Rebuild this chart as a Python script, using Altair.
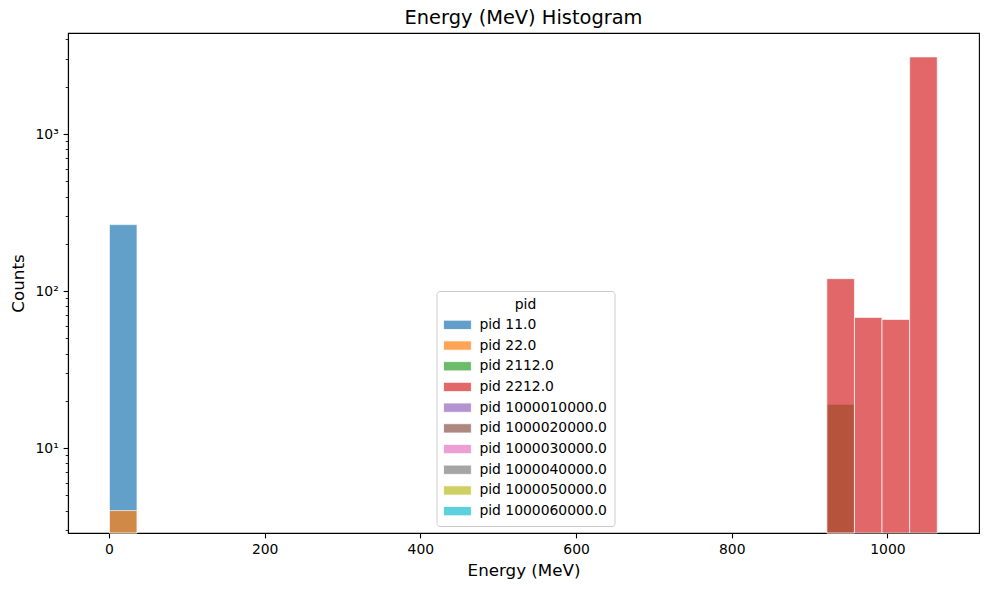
import altair as alt
import pandas as pd

# ---- data ----
pid_values = [11.0, 22.0, 2112.0, 2212.0, 1000010000.0, 1000020000.0,
              1000030000.0, 1000040000.0, 1000050000.0, 1000060000.0]
tab10 = ["#1f77b4", "#ff7f0e", "#2ca02c", "#d62728", "#9467bd",
         "#8c564b", "#e377c2", "#7f7f7f", "#bcbd22", "#17becf"]

bar_pid = [11.0, 22.0, 2112.0, 2212.0, 2212.0, 2212.0, 2212.0]
bar_start = [0.51, 0.51, 922.2, 922.2, 957.7, 993.1, 1028.6]
bar_end = [36.0, 36.0, 957.7, 957.7, 993.1, 1028.6, 1064.1]
bar_count = [265, 4, 19, 120, 68, 66, 3100]

x_ticks = [0, 200, 400, 600, 800, 1000]
y_major = [10, 100, 1000]
y_minor = [3, 4, 5, 6, 7, 8, 9, 20, 30, 40, 50, 60, 70, 80, 90,
           200, 300, 400, 500, 600, 700, 800, 900, 2000, 3000, 4000]

labels = ["pid " + str(p) for p in pid_values]
df = pd.DataFrame({
    "pid": ["pid " + str(p) for p in bar_pid],
    "start": bar_start,
    "end": bar_end,
    "count": bar_count,
    "idx": list(range(len(bar_pid))),
})

W, H = 911, 500
FONT = "DejaVu Sans"

major_test = "datum.value == 10 || datum.value == 100 || datum.value == 1000"

chart = alt.Chart(df).mark_bar(
    fillOpacity=0.7, strokeOpacity=0.7, stroke="white", strokeWidth=1
).encode(
    x=alt.X("start:Q",
            scale=alt.Scale(domain=[-52.7, 1117.7], nice=False, zero=False),
            axis=alt.Axis(values=x_ticks, format="d", title="Energy (MeV)", grid=False,
                          labelFontSize=13.9, labelFont=FONT, labelColor="black",
                          tickSize=4.9, tickWidth=1.1, tickColor="black",
                          labelPadding=4.9, domainColor="black", domainWidth=1.1,
                          titleFontSize=16.7, titleFont=FONT, titleFontWeight="normal",
                          titleColor="black", titleX=455.5, titleY=37,
                          titleBaseline="middle", titleAlign="center")),
    x2="end:Q",
    y=alt.Y("count:Q",
            scale=alt.Scale(type="log", domain=[2.88, 4400], nice=False),
            axis=alt.Axis(values=y_major + y_minor, title="Counts", grid=False,
                          labelExpr="datum.value == 10 ? '10¹' : datum.value == 100 ? '10²' : datum.value == 1000 ? '10³' : ''",
                          labelFontSize=13.9, labelFont=FONT, labelColor="black",
                          tickSize={"condition": {"test": major_test, "value": 4.9}, "value": 2.8},
                          tickWidth={"condition": {"test": major_test, "value": 1.1}, "value": 0.85},
                          tickColor="black", labelPadding=4.9,
                          domainColor="black", domainWidth=1.1,
                          titleFontSize=16.7, titleFont=FONT, titleFontWeight="normal",
                          titleColor="black", titleX=-50, titleY=250, titleAngle=270,
                          titleBaseline="middle", titleAlign="center")),
    y2=alt.value(H),
    color=alt.Color("pid:N",
                    scale=alt.Scale(domain=labels, range=tab10),
                    legend=alt.Legend(
                        title="pid", orient="none", legendX=368.5, legendY=258,
                        direction="vertical",
                        titleFontSize=13.9, titleFont=FONT, titleFontWeight="normal",
                        titleColor="black", titleAnchor="middle", titlePadding=6,
                        labelFontSize=13.9, labelFont=FONT, labelColor="black",
                        symbolType="M-3,-1H3V1H-3Z", symbolSize=86,
                        symbolOpacity=0.7, symbolStrokeColor="white",
                        symbolStrokeWidth=0.8, symbolOffset=7, labelOffset=15,
                        rowPadding=5.7, padding=7, strokeColor="#cccccc",
                        fillColor="rgba(255,255,255,0.8)", cornerRadius=3,
                        labelLimit=300)),
    order=alt.Order("idx:Q"),
).properties(
    width=W, height=H,
    background="white",
    title=alt.TitleParams("Energy (MeV) Histogram", fontSize=19.4, font=FONT,
                          fontWeight="normal", color="black", offset=5,
                          anchor="middle"),
    autosize=alt.AutoSizeParams(type="none"),
    padding={"left": 68, "top": 33, "right": 10, "bottom": 57},
).configure_view(
    stroke="black", strokeWidth=1.1
)

chart.save("out.html", embed_options={"renderer": "svg", "actions": False})
